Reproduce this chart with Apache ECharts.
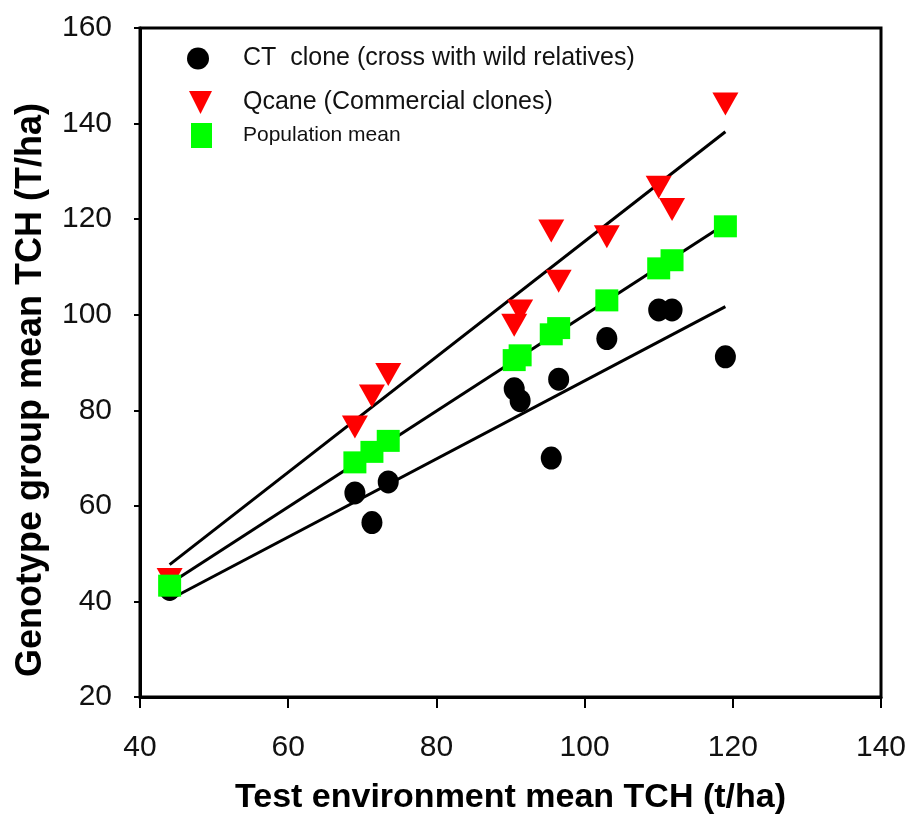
<!DOCTYPE html>
<html>
<head>
<meta charset="utf-8">
<script src="https://cdn.jsdelivr.net/npm/echarts@6/dist/echarts.min.js"></script>
<style>
html,body{margin:0;padding:0;background:#fff;}
#chart{width:914px;height:822px;}
</style>
</head>
<body>
<div id="chart"></div>
<script>
// Test environment mean TCH (x) for each environment
var envMean = [44, 69, 71.3, 73.5, 90.5, 91.3, 95.5, 96.5, 103, 110, 111.8, 119];
// Genotype group means
var ctValues = [42.5, 62.7, 56.5, 65, 84.5, 82, 70, 86.5, 95, 101, 101, 91.2];
var qcaneValues = [44.6, 76.5, 83, 87.5, 97.8, 100.8, 117.5, 107, 116.3, 126.7, 122, 144.1];
var popValues = [43.3, 69.1, 71.3, 73.6, 90.5, 91.5, 95.9, 97.2, 103, 109.7, 111.4, 118.5];
// Regression line endpoints [x, y]
var ctFit = [[44, 40.4], [119, 101.7]];
var qcaneFit = [[44, 47.7], [119, 138.3]];
var popFit = [[44, 43.7], [119, 119.0]];
// Axis ticks
var xTicks = {min: 40, max: 140, interval: 20};
var yTicks = {min: 20, max: 160, interval: 20};

var names = {
  ct: 'CT  clone (cross with wild relatives)',
  q: 'Qcane (Commercial clones)',
  pop: 'Population mean'
};

function pairs(xs, ys) {
  return xs.map(function (x, i) { return [x, ys[i]]; });
}

var FONT = 'Liberation Sans, Arial, sans-serif';
var chart = echarts.init(document.getElementById('chart'), null, {renderer: 'canvas'});

var option = {
  backgroundColor: '#fff',
  animation: false,
  grid: {left: 140, right: 33, top: 28, bottom: 125, show: true, borderColor: '#000', borderWidth: 3, backgroundColor: 'transparent',
         containLabel: false, outerBoundsMode: 'none'},
  xAxis: {
    type: 'value', min: xTicks.min, max: xTicks.max, interval: xTicks.interval,
    name: 'Test environment mean TCH (t/ha)', nameLocation: 'middle', nameGap: 84,
    nameTextStyle: {fontFamily: FONT, fontWeight: 'bold', fontSize: 34, color: '#000'},
    axisLine: {lineStyle: {color: '#000', width: 3}},
    axisTick: {inside: false, length: 11, lineStyle: {color: '#000', width: 2}},
    axisLabel: {fontFamily: FONT, fontSize: 30, color: '#111', margin: 36},
    splitLine: {show: false}
  },
  yAxis: {
    type: 'value', min: yTicks.min, max: yTicks.max, interval: yTicks.interval,
    axisLine: {lineStyle: {color: '#000', width: 3}},
    axisTick: {inside: false, length: 6, lineStyle: {color: '#000', width: 2}},
    axisLabel: {fontFamily: FONT, fontSize: 30, color: '#111', margin: 28},
    splitLine: {show: false}
  },
  graphic: [{
    type: 'text', x: 31, y: 390, rotation: Math.PI / 2,
    style: {text: 'Genotype group mean TCH (T/ha)', font: 'bold 36px ' + FONT, fill: '#000', align: 'center', verticalAlign: 'middle'}
  }],
  legend: [
    {data: [{name: names.ct, icon: 'circle'}], left: 187, top: 46, padding: 0, itemWidth: 22, itemHeight: 24, selectedMode: false,
     textStyle: {fontFamily: FONT, fontSize: 25, color: '#111', padding: [0, 0, 0, 29]}},
    {data: [{name: names.q, icon: 'path://M0,0L20,0L10,20Z'}], left: 189, top: 90, padding: 0, itemWidth: 23, itemHeight: 24, selectedMode: false,
     textStyle: {fontFamily: FONT, fontSize: 25, color: '#111', padding: [0, 0, 0, 26]}},
    {data: [{name: names.pop, icon: 'rect'}], left: 191, top: 123, padding: 0, itemWidth: 21, itemHeight: 25, selectedMode: false,
     textStyle: {fontFamily: FONT, fontSize: 21, color: '#111', padding: [0, 0, 0, 26]}}
  ],
  series: [
    {type: 'line', name: 'ctFit', data: ctFit, symbol: 'none', z: 1, lineStyle: {color: '#000', width: 3}, silent: true},
    {type: 'line', name: 'qFit', data: qcaneFit, symbol: 'none', z: 1, lineStyle: {color: '#000', width: 3}, silent: true},
    {type: 'line', name: 'popFit', data: popFit, symbol: 'none', z: 1, lineStyle: {color: '#000', width: 3}, silent: true},
    {type: 'scatter', name: names.ct, data: pairs(envMean, ctValues), symbol: 'circle', symbolSize: [21, 23], z: 2,
     itemStyle: {color: '#000', opacity: 1}},
    {type: 'scatter', name: names.q, data: pairs(envMean, qcaneValues), symbol: 'triangle', symbolRotate: 180, symbolSize: [26, 23], z: 3,
     itemStyle: {color: '#ff0000', opacity: 1}},
    {type: 'scatter', name: names.pop, data: pairs(envMean, popValues), symbol: 'rect', symbolSize: [23, 22], z: 4,
     itemStyle: {color: '#00ff00', opacity: 1}}
  ]
};
chart.setOption(option);
</script>
</body>
</html>
